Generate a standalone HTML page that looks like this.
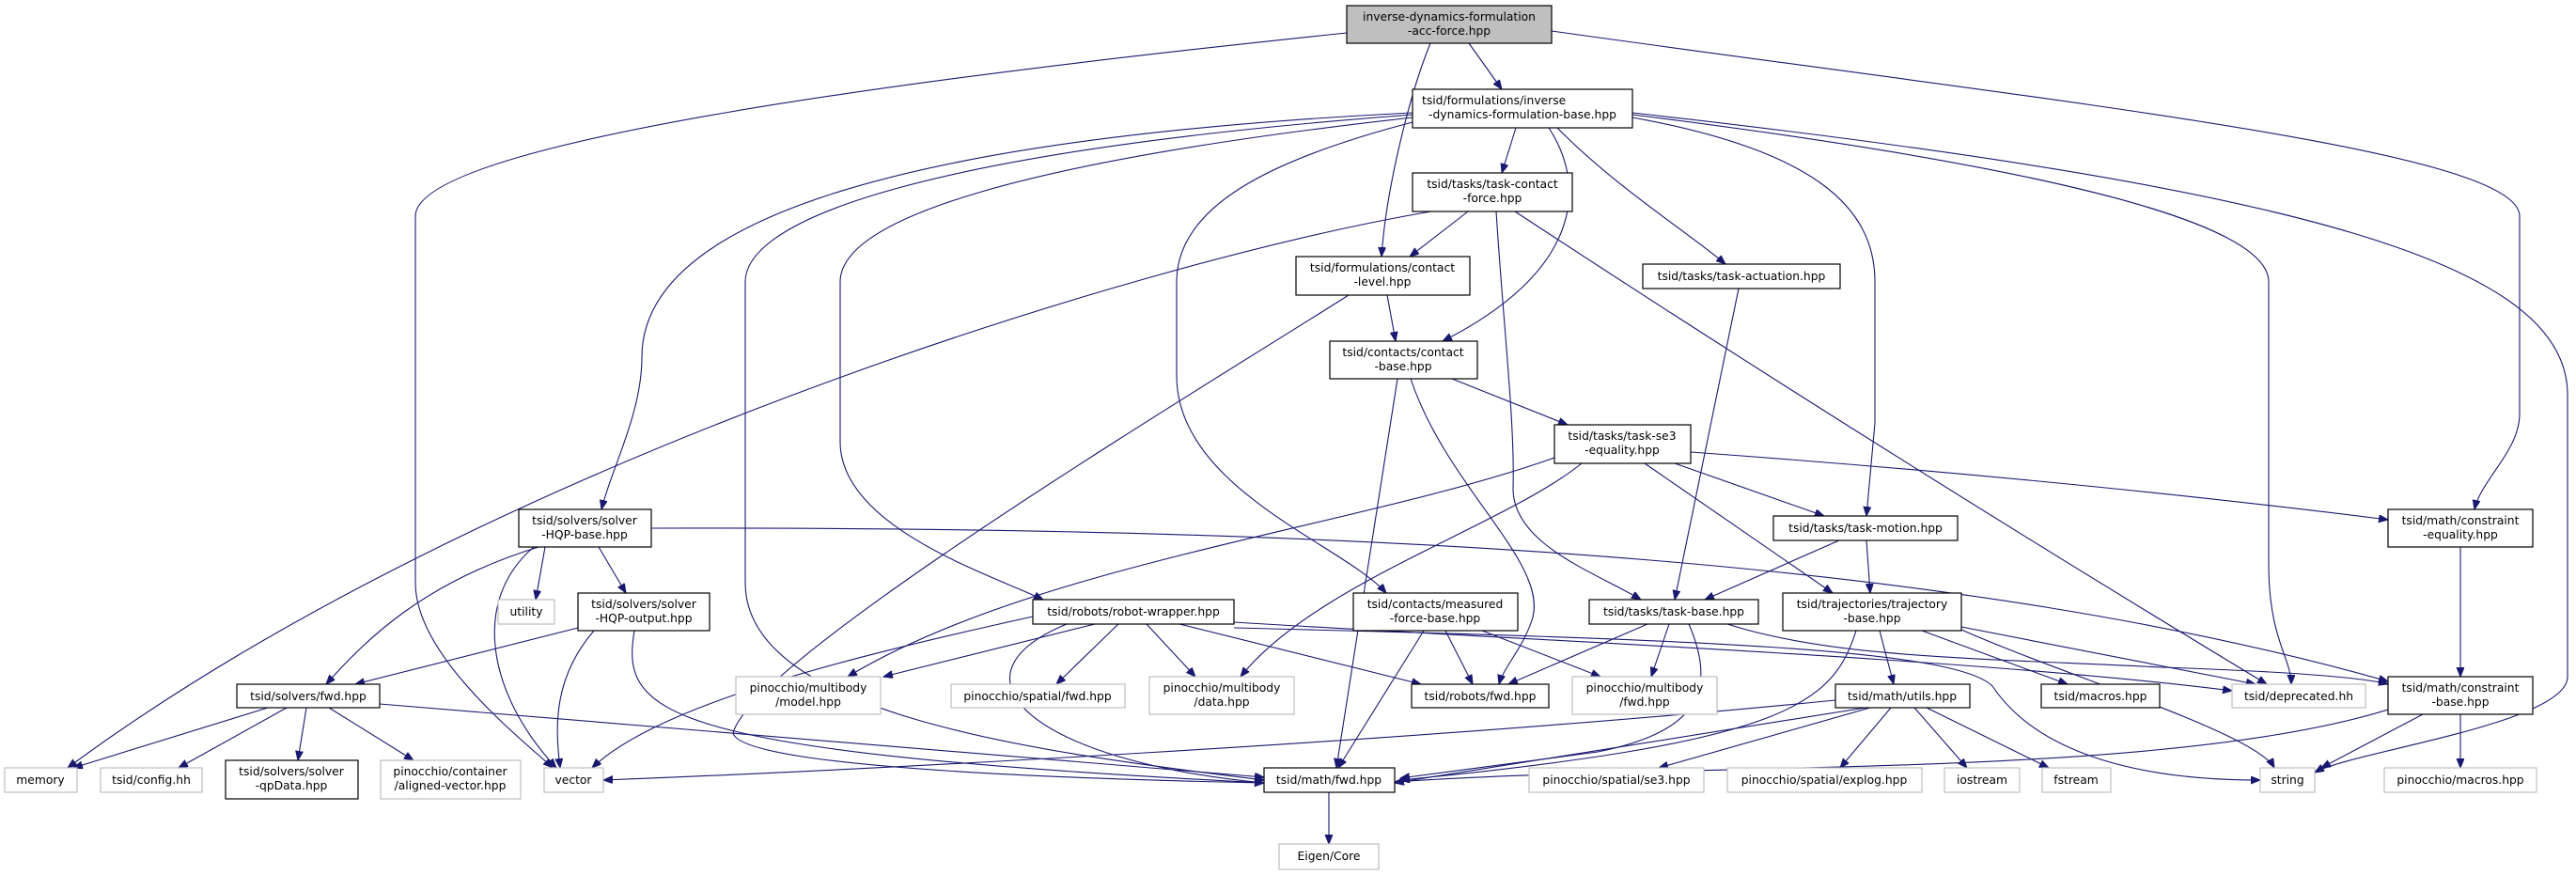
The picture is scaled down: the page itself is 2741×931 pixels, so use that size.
<!DOCTYPE html>
<html><head><meta charset="utf-8"><style>
html,body{margin:0;padding:0;background:#fff;}
svg{display:block;}
text{font-family:"DejaVu Sans","Liberation Sans",sans-serif;font-size:12.3px;fill:#000;}
.e{fill:none;stroke:#191970;stroke-width:1.1;marker-end:url(#a);}
.n{fill:#fff;stroke:#000;stroke-width:1.2;}
.g{fill:#fff;stroke:#bfbfbf;stroke-width:1.2;}
</style></head><body>
<svg width="2741" height="931" viewBox="0 0 2741 931" xmlns="http://www.w3.org/2000/svg">
<defs><marker id="a" markerUnits="userSpaceOnUse" markerWidth="11" markerHeight="9" refX="10" refY="4" orient="auto"><path d="M0,0 L10,4 L0,8 z" fill="#191970" stroke="#191970"/></marker></defs>
<g>
<path class="e" d="M1563,46 L1598,95"/>
<path class="e" d="M1522,46 C1500,100 1475,200 1470,273"/>
<path class="e" d="M1433,35 C1000,80 442,150 442,230 L442,620 C442,700 560,790 588,817"/>
<path class="e" d="M1651,33 C2200,110 2681,160 2681,230 L2681,440 C2681,480 2640,510 2633,542"/>
<path class="e" d="M1613,136 L1598,184"/>
<path class="e" d="M1657,136 C1720,200 1800,250 1836,281"/>
<path class="e" d="M1648,136 C1690,200 1680,290 1535,363"/>
<path class="e" d="M1737,125 C1930,160 1995,220 1995,300 L1995,450 L1986,549"/>
<path class="e" d="M1737,122 C2200,180 2414,240 2414,300 L2414,600 C2414,680 2438,700 2438,728"/>
<path class="e" d="M1737,120 C2450,200 2732,280 2732,420 L2732,720 C2732,770 2500,800 2463,822"/>
<path class="e" d="M1503,120 C900,150 683,250 683,380 C683,440 650,500 640,542"/>
<path class="e" d="M1503,122 C1000,160 793,230 793,300 L793,620 C793,760 1100,800 1345,830"/>
<path class="e" d="M1503,125 C1100,170 894,230 894,300 L894,470 C894,560 1050,610 1110,638"/>
<path class="e" d="M1503,130 C1350,170 1252,220 1252,300 L1252,400 C1252,520 1430,580 1475,631"/>
<path class="e" d="M1562,225 L1500,273"/>
<path class="e" d="M1523,225 C1200,280 500,500 72,817"/>
<path class="e" d="M1592,225 C1600,350 1612,450 1610,520 C1610,580 1700,610 1746,638"/>
<path class="e" d="M1612,225 Q1985,470 2412,728"/>
<path class="e" d="M1476,314 L1485,363"/>
<path class="e" d="M1435,314 C1300,400 800,700 780,780 C790,820 1200,830 1345,833"/>
<path class="e" d="M1545,403 L1668,452"/>
<path class="e" d="M1487,403 L1422,817"/>
<path class="e" d="M1501,403 C1540,520 1650,600 1630,660 C1620,690 1600,710 1595,728"/>
<path class="e" d="M1782,493 L1941,549"/>
<path class="e" d="M1750,493 L1950,631"/>
<path class="e" d="M1799,481 Q2200,510 2541,553"/>
<path class="e" d="M1654,487 C1450,560 1100,600 902,720"/>
<path class="e" d="M1683,493 C1600,560 1400,620 1320,720"/>
<path class="e" d="M1850,307 L1782,638"/>
<path class="e" d="M1957,575 L1814,638"/>
<path class="e" d="M1986,575 L1990,631"/>
<path class="e" d="M2618,582 L2618,720"/>
<path class="e" d="M1538,671 L1567,728"/>
<path class="e" d="M1577,671 L1703,720"/>
<path class="e" d="M1515,671 L1424,817"/>
<path class="e" d="M1753,664 L1605,728"/>
<path class="e" d="M1776,664 L1757,720"/>
<path class="e" d="M1797,664 C1830,740 1800,780 1700,800 L1490,828"/>
<path class="e" d="M1838,664 C1950,700 2100,700 2300,710 C2450,715 2520,722 2541,728"/>
<path class="e" d="M2000,671 L2015,728"/>
<path class="e" d="M2045,671 L2200,728"/>
<path class="e" d="M2087,667 L2400,728"/>
<path class="e" d="M2087,670 C2200,720 2400,780 2420,817"/>
<path class="e" d="M1975,671 C1950,750 1900,790 1490,830"/>
<path class="e" d="M1165,664 L940,720"/>
<path class="e" d="M1190,664 L1124,728"/>
<path class="e" d="M1220,664 L1272,720"/>
<path class="e" d="M1099,656 C900,700 700,750 630,817"/>
<path class="e" d="M1135,664 C1000,720 1100,810 1345,833"/>
<path class="e" d="M1255,664 L1512,728"/>
<path class="e" d="M1313,662 C1600,680 2100,700 2375,735"/>
<path class="e" d="M1313,668 C1800,680 2080,690 2120,730 C2160,790 2250,830 2405,830"/>
<path class="e" d="M580,582 L570,638"/>
<path class="e" d="M637,582 L666,631"/>
<path class="e" d="M573,582 C450,620 390,680 347,728"/>
<path class="e" d="M568,582 C500,640 520,740 592,817"/>
<path class="e" d="M693,562 C1500,560 2100,600 2541,725"/>
<path class="e" d="M615,668 L378,728"/>
<path class="e" d="M632,671 C590,720 590,770 596,817"/>
<path class="e" d="M675,671 C660,760 700,800 1345,833"/>
<path class="e" d="M285,753 L78,817"/>
<path class="e" d="M305,753 L190,817"/>
<path class="e" d="M326,753 L317,809"/>
<path class="e" d="M350,753 L440,809"/>
<path class="e" d="M404,749 L1345,827"/>
<path class="e" d="M1985,753 L1484,833"/>
<path class="e" d="M1953,745 C1500,790 900,820 642,830"/>
<path class="e" d="M1990,753 L1765,817"/>
<path class="e" d="M2012,753 L1958,817"/>
<path class="e" d="M2037,753 L2093,817"/>
<path class="e" d="M2050,753 L2180,817"/>
<path class="e" d="M2541,755 C2300,830 1800,810 1484,832"/>
<path class="e" d="M2578,760 L2470,817"/>
<path class="e" d="M2618,760 L2618,817"/>
<path class="e" d="M1414,843 L1414,898"/>
</g>
<g text-anchor="middle">
<rect x="1433" y="6" width="218" height="40" fill="#bfbfbf" stroke="#000" stroke-width="1.2"/><text x="1542" y="22">inverse-dynamics-formulation</text><text x="1542" y="37">-acc-force.hpp</text>
<rect class="n" x="1503" y="95" width="234" height="41"/><text x="1513" y="111" text-anchor="start">tsid/formulations/inverse</text><text x="1620" y="126">-dynamics-formulation-base.hpp</text>
<rect class="n" x="1503" y="184" width="170" height="41"/><text x="1588" y="200">tsid/tasks/task-contact</text><text x="1588" y="215">-force.hpp</text>
<rect class="n" x="1379" y="273" width="185" height="41"/><text x="1471" y="289">tsid/formulations/contact</text><text x="1471" y="304">-level.hpp</text>
<rect class="n" x="1748" y="281" width="210" height="26"/><text x="1853" y="298">tsid/tasks/task-actuation.hpp</text>
<rect class="n" x="1415" y="363" width="157" height="40"/><text x="1493" y="379">tsid/contacts/contact</text><text x="1493" y="394">-base.hpp</text>
<rect class="n" x="1654" y="452" width="145" height="41"/><text x="1726" y="468">tsid/tasks/task-se3</text><text x="1726" y="483">-equality.hpp</text>
<rect class="n" x="1887" y="549" width="196" height="26"/><text x="1985" y="566">tsid/tasks/task-motion.hpp</text>
<rect class="n" x="2541" y="542" width="154" height="40"/><text x="2618" y="558">tsid/math/constraint</text><text x="2618" y="573">-equality.hpp</text>
<rect class="n" x="1440" y="631" width="175" height="40"/><text x="1527" y="647">tsid/contacts/measured</text><text x="1527" y="662">-force-base.hpp</text>
<rect class="n" x="1691" y="638" width="180" height="26"/><text x="1781" y="655">tsid/tasks/task-base.hpp</text>
<rect class="n" x="1897" y="631" width="190" height="40"/><text x="1992" y="647">tsid/trajectories/trajectory</text><text x="1992" y="662">-base.hpp</text>
<rect class="n" x="1502" y="728" width="146" height="25"/><text x="1575" y="745">tsid/robots/fwd.hpp</text>
<rect class="g" x="1673" y="720" width="154" height="40"/><text x="1750" y="736">pinocchio/multibody</text><text x="1750" y="751">/fwd.hpp</text>
<rect class="n" x="1953" y="728" width="143" height="25"/><text x="2024" y="745">tsid/math/utils.hpp</text>
<rect class="n" x="2172" y="728" width="126" height="25"/><text x="2235" y="745">tsid/macros.hpp</text>
<rect class="g" x="2375" y="728" width="142" height="25"/><text x="2446" y="745">tsid/deprecated.hh</text>
<rect class="n" x="2541" y="720" width="154" height="40"/><text x="2618" y="736">tsid/math/constraint</text><text x="2618" y="751">-base.hpp</text>
<rect class="n" x="1345" y="817" width="139" height="26"/><text x="1414" y="834">tsid/math/fwd.hpp</text>
<rect class="g" x="1627" y="817" width="186" height="26"/><text x="1720" y="834">pinocchio/spatial/se3.hpp</text>
<rect class="g" x="1838" y="817" width="207" height="26"/><text x="1941" y="834">pinocchio/spatial/explog.hpp</text>
<rect class="g" x="2069" y="817" width="80" height="26"/><text x="2109" y="834">iostream</text>
<rect class="g" x="2173" y="817" width="73" height="26"/><text x="2209" y="834">fstream</text>
<rect class="g" x="2405" y="817" width="58" height="26"/><text x="2434" y="834">string</text>
<rect class="g" x="2537" y="817" width="162" height="26"/><text x="2618" y="834">pinocchio/macros.hpp</text>
<rect class="g" x="1361" y="898" width="106" height="27"/><text x="1414" y="915">Eigen/Core</text>
<rect class="n" x="552" y="542" width="141" height="40"/><text x="622" y="558">tsid/solvers/solver</text><text x="622" y="573">-HQP-base.hpp</text>
<rect class="g" x="530" y="638" width="60" height="26"/><text x="560" y="655">utility</text>
<rect class="n" x="615" y="631" width="140" height="40"/><text x="685" y="647">tsid/solvers/solver</text><text x="685" y="662">-HQP-output.hpp</text>
<rect class="n" x="1099" y="638" width="214" height="26"/><text x="1206" y="655">tsid/robots/robot-wrapper.hpp</text>
<rect class="n" x="252" y="728" width="152" height="25"/><text x="328" y="745">tsid/solvers/fwd.hpp</text>
<rect class="g" x="783" y="720" width="154" height="40"/><text x="860" y="736">pinocchio/multibody</text><text x="860" y="751">/model.hpp</text>
<rect class="g" x="1012" y="728" width="185" height="25"/><text x="1104" y="745">pinocchio/spatial/fwd.hpp</text>
<rect class="g" x="1223" y="720" width="154" height="40"/><text x="1300" y="736">pinocchio/multibody</text><text x="1300" y="751">/data.hpp</text>
<rect class="g" x="5" y="817" width="77" height="26"/><text x="43" y="834">memory</text>
<rect class="g" x="107" y="817" width="108" height="26"/><text x="161" y="834">tsid/config.hh</text>
<rect class="n" x="240" y="809" width="141" height="41"/><text x="310" y="825">tsid/solvers/solver</text><text x="310" y="840">-qpData.hpp</text>
<rect class="g" x="405" y="809" width="149" height="41"/><text x="479" y="825">pinocchio/container</text><text x="479" y="840">/aligned-vector.hpp</text>
<rect class="g" x="579" y="817" width="63" height="26"/><text x="610" y="834">vector</text>
</g>
</svg>
</body></html>
